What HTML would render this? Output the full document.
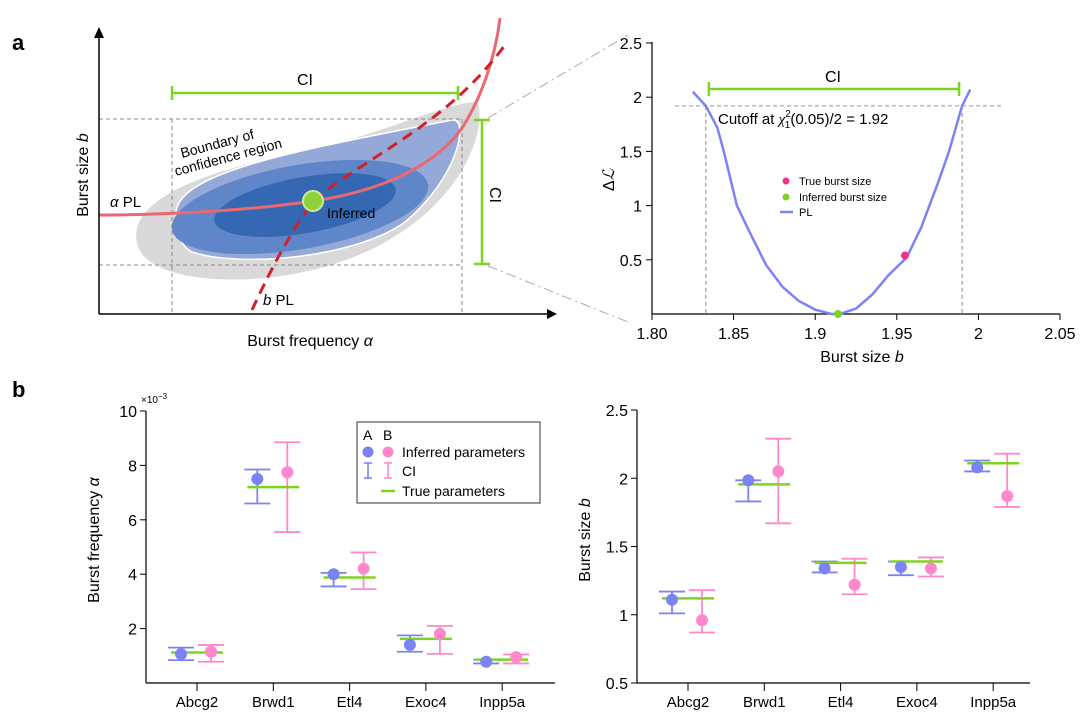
<!DOCTYPE html>
<html><head><meta charset="utf-8">
<style>
body{margin:0;background:#fff;}
svg{display:block;font-family:"Liberation Sans",sans-serif;}
</style></head>
<body>
<svg id="fig" width="1080" height="716" viewBox="0 0 1080 716" xmlns="http://www.w3.org/2000/svg">
<!-- Panel a left: schematic -->
<g>
<text x="12" y="50" font-size="22" font-weight="bold">a</text>
<text x="12" y="397" font-size="22" font-weight="bold">b</text>
<path d="M137,243 C128,200 200,172 300,152 C380,136 445,102 478,102 C488,140 450,225 340,262 C260,290 145,285 137,243 Z" fill="#d9d9d9"/>
<path d="M176,215 C174,172 300,150 452,120 C470,118 458,178 405,222 C355,258 240,268 192,252 C180,246 176,232 176,215 Z" fill="#95a9d8" stroke="#fff" stroke-width="1.5"/>
<ellipse cx="300" cy="207" rx="130" ry="42" transform="rotate(-10 300 207)" fill="#5f86c8"/>
<ellipse cx="305" cy="205" rx="92" ry="28" transform="rotate(-10 305 205)" fill="#3568b3"/>
<g stroke="#888" stroke-width="1" stroke-dasharray="4,3" fill="none">
<line x1="99" y1="119" x2="462" y2="119"/><line x1="99" y1="265" x2="462" y2="265"/>
<line x1="172" y1="119" x2="172" y2="314"/><line x1="462" y1="119" x2="462" y2="314"/>
</g>
<path d="M99,215 C150,215 240,212 313,201 C390,190 440,160 462,128 C480,100 495,60 500,18" fill="none" stroke="#eb6872" stroke-width="3"/>
<path d="M252,310 C275,260 300,215 320,195 C380,150 450,120 505,45" fill="none" stroke="#d0202c" stroke-width="3" stroke-dasharray="11,7"/>
<circle cx="313" cy="201" r="10" fill="#8fd13a" stroke="#c9ec9a" stroke-width="2"/>
<line x1="99" y1="314" x2="550" y2="314" stroke="#000" stroke-width="1.5"/>
<polygon points="557,314 547,309 547,319" fill="#000"/>
<line x1="99" y1="314" x2="99" y2="35" stroke="#000" stroke-width="1.5"/>
<polygon points="99,27 94,38 104,38" fill="#000"/>
<g stroke="#7ed321" stroke-width="2.5">
<line x1="172" y1="93" x2="458" y2="93"/><line x1="172" y1="86" x2="172" y2="100"/><line x1="458" y1="86" x2="458" y2="100"/></g>
<g stroke="#7ed321" stroke-width="2.5">
<line x1="482" y1="120" x2="482" y2="264"/><line x1="474" y1="120" x2="490" y2="120"/><line x1="474" y1="264" x2="490" y2="264"/></g>
<g stroke="#aaa" stroke-width="1" stroke-dasharray="10,4,2,4">
<line x1="488" y1="118" x2="628" y2="35"/><line x1="488" y1="266" x2="628" y2="322"/></g>
<text x="305" y="85" font-size="16" text-anchor="middle">CI</text>
<text x="0" y="0" font-size="16" transform="translate(490,195) rotate(90)" text-anchor="middle">CI</text>
<text x="0" y="0" font-size="14" transform="translate(182,158) rotate(-15)">Boundary of</text>
<text x="0" y="0" font-size="14" transform="translate(176,176) rotate(-15)">confidence region</text>
<text x="110" y="207" font-size="15"><tspan font-style="italic">α</tspan>  PL</text>
<text x="327" y="218" font-size="14">Inferred</text>
<text x="263" y="305" font-size="15"><tspan font-style="italic">b</tspan>  PL</text>
<text x="0" y="0" font-size="16" transform="translate(88,175) rotate(-90)" text-anchor="middle">Burst size <tspan font-style="italic">b</tspan></text>
<text x="310" y="346" font-size="16" text-anchor="middle">Burst frequency  <tspan font-style="italic">α</tspan></text>
</g>
<g id="plA"></g>
<g id="bA"></g>
<g id="bB"></g>
</svg>
<script>
const NS="http://www.w3.org/2000/svg";
function mk(p,t,a,txt){const e=document.createElementNS(NS,t);for(const k in a)e.setAttribute(k,a[k]);if(txt!==undefined)e.textContent=txt;p.appendChild(e);return e;}
// ---- PL chart data
const plB=[1.825,1.833,1.84,1.844,1.852,1.86,1.87,1.88,1.89,1.90,1.91,1.915,1.925,1.935,1.945,1.956,1.965,1.97,1.975,1.982,1.99,1.995];
const plL=[2.05,1.92,1.72,1.5,1.0,0.75,0.45,0.25,0.12,0.04,0.0,0.0,0.05,0.18,0.36,0.52,0.8,1.0,1.2,1.5,1.92,2.07];
const plXTicks=[1.80,1.85,1.9,1.95,2,2.05];
const plXLabels=["1.80","1.85","1.9","1.95","2","2.05"];
const plYTicks=[0.5,1,1.5,2,2.5];
const plYLabels=["0.5","1","1.5","2","2.5"];
const plTrue=[1.955,0.54];
const plInf=[1.914,0.0];
const plCutoff=1.92;
const plCI=[1.833,1.99];
(function(){
const g=document.getElementById('plA');
const X=v=>652+(v-1.80)/0.25*408, Y=v=>314-v/2.5*271;
mk(g,'line',{x1:652,y1:314,x2:1060,y2:314,stroke:'#000','stroke-width':1.2});
mk(g,'line',{x1:652,y1:314,x2:652,y2:42,stroke:'#000','stroke-width':1.2});
plXTicks.forEach((t,i)=>{mk(g,'line',{x1:X(t),y1:314,x2:X(t),y2:320,stroke:'#000'});
const e=mk(g,'text',{x:X(t),y:339,'font-size':16,'text-anchor':'middle'},plXLabels[i]);

});
plYTicks.forEach((t,i)=>{mk(g,'line',{x1:646,y1:Y(t),x2:652,y2:Y(t),stroke:'#000'});
const e=mk(g,'text',{x:642,y:Y(t)+6,'font-size':16,'text-anchor':'end'},plYLabels[i]);

});
const c=mk(g,'line',{x1:675,y1:Y(plCutoff),x2:1003,y2:Y(plCutoff),stroke:'#999','stroke-dasharray':'4,3'});


plCI.forEach(v=>mk(g,'line',{x1:X(v),y1:Y(plCutoff),x2:X(v),y2:314,stroke:'#888','stroke-dasharray':'4,3'}));
const ci=mk(g,'g',{stroke:'#7ed321','stroke-width':2.5});


mk(ci,'line',{x1:X(plCI[0])+3,y1:89,x2:X(plCI[1])-3,y2:89});
mk(ci,'line',{x1:X(plCI[0])+3,y1:82,x2:X(plCI[0])+3,y2:96});
mk(ci,'line',{x1:X(plCI[1])-3,y1:82,x2:X(plCI[1])-3,y2:96});
mk(g,'text',{x:833,y:82,'font-size':16,'text-anchor':'middle'},'CI');
const ct=mk(g,'text',{x:718,y:124,'font-size':15});
ct.innerHTML='Cutoff at <tspan font-style="italic" font-family="Liberation Serif">χ</tspan><tspan font-size="10" dy="-7">2</tspan><tspan font-size="10" dx="-6" dy="11">1</tspan><tspan dy="-4">(0.05)/2 = 1.92</tspan>';
const p=mk(g,'polyline',{points:plB.map((b,i)=>X(b)+','+Y(plL[i])).join(' '),fill:'none',stroke:'#7b83f5','stroke-width':2.5});


const t=mk(g,'circle',{cx:X(plTrue[0]),cy:Y(plTrue[1]),r:4,fill:'#f0308a'});


const f=mk(g,'circle',{cx:X(plInf[0]),cy:Y(plInf[1]),r:4,fill:'#7ed321'});


const lg=mk(g,'g',{'font-size':11});


mk(lg,'circle',{cx:786,cy:181,r:3.5,fill:'#f0308a'});mk(lg,'text',{x:799,y:185},'True burst size');
mk(lg,'circle',{cx:786,cy:197,r:3.5,fill:'#7ed321'});mk(lg,'text',{x:799,y:201},'Inferred burst size');
mk(lg,'line',{x1:780,y1:212,x2:793,y2:212,stroke:'#7b83f5','stroke-width':2.5});mk(lg,'text',{x:799,y:216},'PL');
mk(g,'text',{x:862,y:362,'font-size':16,'text-anchor':'middle'}).innerHTML='Burst size <tspan font-style="italic">b</tspan>';
mk(g,'text',{x:0,y:0,'font-size':16,'text-anchor':'middle',transform:'translate(614,180) rotate(-90)'}).innerHTML='Δ<tspan font-style="italic" font-family="Liberation Serif">ℒ</tspan>';
})();
// ---- Panel b data
const genes=["Abcg2","Brwd1","Etl4","Exoc4","Inpp5a"];
const freqA=[1.06,7.5,4.0,1.4,0.78];
const freqAlo=[0.84,6.6,3.55,1.15,0.72];
const freqAhi=[1.3,7.85,4.05,1.75,0.86];
const freqB=[1.15,7.75,4.2,1.8,0.95];
const freqBlo=[0.78,5.55,3.45,1.07,0.72];
const freqBhi=[1.4,8.85,4.8,2.1,1.05];
const freqTrue=[1.12,7.2,3.88,1.62,0.86];
const freqTicks=[2,4,6,8,10];
const freqLabels=["2","4","6","8","10"];
const sizeA=[1.11,1.985,1.34,1.35,2.08];
const sizeAlo=[1.01,1.83,1.31,1.29,2.05];
const sizeAhi=[1.17,1.985,1.39,1.39,2.13];
const sizeB=[0.96,2.05,1.22,1.34,1.87];
const sizeBlo=[0.87,1.67,1.15,1.28,1.79];
const sizeBhi=[1.18,2.29,1.41,1.42,2.18];
const sizeTrue=[1.12,1.955,1.38,1.39,2.11];
const sizeTicks=[0.5,1,1.5,2,2.5];
const sizeLabels=["0.5","1","1.5","2","2.5"];
function errChart(id,ax,axEnd,y0,yTop,vmin,vmax,ticks,labels,A,Alo,Ahi,B,Blo,Bhi,T,ttl){
const g=document.getElementById(id);
const Y=v=>683-(v-vmin)/(vmax-vmin)*(683-yTop);
const X=i=>ax+51+i*76.3;
mk(g,'line',{x1:ax,y1:683,x2:axEnd,y2:683,stroke:'#000','stroke-width':1.2});
mk(g,'line',{x1:ax,y1:683,x2:ax,y2:yTop,stroke:'#000','stroke-width':1.2});
ticks.forEach((t,i)=>{mk(g,'line',{x1:ax-6,y1:Y(t),x2:ax,y2:Y(t),stroke:'#000'});
const e=mk(g,'text',{x:ax-9,y:Y(t)+6,'font-size':16,'text-anchor':'end'},labels[i]);

});
genes.forEach((n,i)=>{const x=X(i);
mk(g,'line',{x1:x,y1:683,x2:x,y2:691,stroke:'#000'});
const e=mk(g,'text',{x:x,y:707,'font-size':15,'text-anchor':'middle'},n);


const sA=mk(g,'g',{});


const xa=x-16,xb=x+14;
[[sA,xa,A,Alo,Ahi,'#7b83f5'],[null,xb,B,Blo,Bhi,'#ff88cc']].forEach(([gg,xx,V,L,H,col],k)=>{
let grp=gg; if(!grp){grp=mk(g,'g',{});

}
mk(grp,'line',{x1:xx,y1:Y(L[i]),x2:xx,y2:Y(H[i]),stroke:col,'stroke-width':1.8});
mk(grp,'line',{x1:xx-13,y1:Y(L[i]),x2:xx+13,y2:Y(L[i]),stroke:col,'stroke-width':1.8});
mk(grp,'line',{x1:xx-13,y1:Y(H[i]),x2:xx+13,y2:Y(H[i]),stroke:col,'stroke-width':1.8});
});
const tl=mk(g,'line',{x1:x-26,y1:Y(T[i]),x2:x+26,y2:Y(T[i]),stroke:'#7ed321','stroke-width':2.5});


const ca=mk(g,'circle',{cx:xa,cy:Y(A[i]),r:6,fill:'#7b83f5'});


const cb=mk(g,'circle',{cx:xb,cy:Y(B[i]),r:6,fill:'#ff88cc'});


});
const tt=mk(g,'text',{x:0,y:0,'font-size':16,'text-anchor':'middle',transform:'translate('+(ax-47)+',540) rotate(-90)'});
tt.innerHTML=ttl;


}
errChart('bA',146,555,0,411,0,10,freqTicks,freqLabels,freqA,freqAlo,freqAhi,freqB,freqBlo,freqBhi,freqTrue,'Burst frequency  <tspan font-style="italic">α</tspan>');
errChart('bB',637,1030,0,410,0.5,2.5,sizeTicks,sizeLabels,sizeA,sizeAlo,sizeAhi,sizeB,sizeBlo,sizeBhi,sizeTrue,'Burst size <tspan font-style="italic">b</tspan>');
(function(){
const g=document.getElementById('bA');
mk(g,'text',{x:141,y:403,'font-size':10}).innerHTML='×10<tspan dy="-4" font-size="8">−3</tspan>';
const lg=mk(g,'g',{'font-size':14});


mk(lg,'rect',{x:357,y:422,width:183,height:81,fill:'#fff',stroke:'#333','stroke-width':1});
mk(lg,'text',{x:363,y:440},'A');mk(lg,'text',{x:383,y:440},'B');
mk(lg,'circle',{cx:368,cy:452,r:5.5,fill:'#7b83f5'});mk(lg,'circle',{cx:388,cy:452,r:5.5,fill:'#ff88cc'});
mk(lg,'text',{x:402,y:457},'Inferred parameters');
[[368,'#7b83f5'],[388,'#ff88cc']].forEach(([x,c])=>{mk(lg,'line',{x1:x,y1:463,x2:x,y2:478,stroke:c,'stroke-width':1.6});mk(lg,'line',{x1:x-4,y1:463,x2:x+4,y2:463,stroke:c,'stroke-width':1.6});mk(lg,'line',{x1:x-4,y1:478,x2:x+4,y2:478,stroke:c,'stroke-width':1.6});});
mk(lg,'text',{x:402,y:476},'CI');
mk(lg,'line',{x1:381,y1:491,x2:395,y2:491,stroke:'#7ed321','stroke-width':2.5});
mk(lg,'text',{x:402,y:496},'True parameters');
})();
</script>
</body></html>
